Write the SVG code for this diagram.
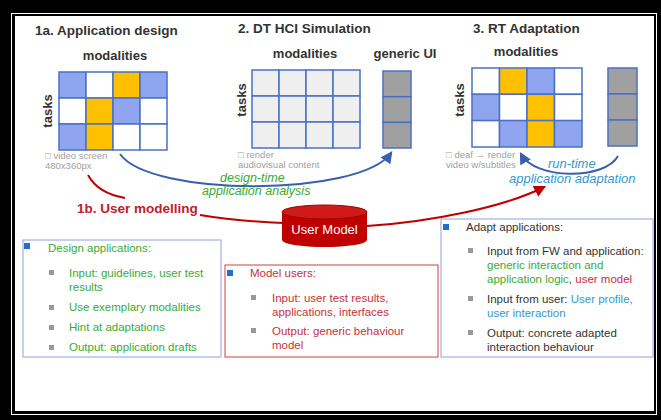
<svg xmlns="http://www.w3.org/2000/svg" width="661" height="420" viewBox="0 0 661 420">
<defs>
<style>
.t{font-family:"Liberation Sans",Arial,sans-serif;}
.h{font-weight:bold;fill:#333;}
.sm{font-size:9.5px;fill:#a0a0a0;}
.it{font-style:italic;}
.cell{stroke:#4a70c8;stroke-width:1.5;}
.b{fill:#8fa5ef;}
.o{fill:#ffc000;}
.w{fill:#ffffff;}
.g{fill:#efefef;}
.d{fill:#a0a0a0;}
.li{font-size:11.5px;}
.sq{fill:#999;}
.bsq{fill:#1f6fd0;}
.grn{fill:#3aaa35;}
.red{fill:#c8303a;}
.dk{fill:#333;}
.lb{fill:#3399cc;}
</style>
<marker id="ab" viewBox="0 0 10 10" refX="8" refY="5" markerWidth="6" markerHeight="6" orient="auto"><path d="M0,0 L10,5 L0,10 z" fill="#3a5fb0"/></marker>
<marker id="ar" viewBox="0 0 10 10" refX="8" refY="5" markerWidth="6" markerHeight="6" orient="auto"><path d="M0,0 L10,5 L0,10 z" fill="#c00000"/></marker>
</defs>
<rect x="0" y="0" width="661" height="420" fill="#000"/>
<rect x="11.5" y="13.5" width="645" height="401" fill="none" stroke="#fff" stroke-width="1"/>
<rect x="15" y="16" width="639" height="395" fill="#fff"/>

<g id="stage1">
<text class="t h" x="35" y="35" font-size="13.5">1a. Application design</text>
<text class="t h" x="115" y="60" font-size="13" text-anchor="middle">modalities</text>
<text class="t h" font-size="13" transform="translate(52,111) rotate(-90)" text-anchor="middle">tasks</text>
<g class="cell">
<rect class="b" x="59" y="72" width="27" height="26"/><rect class="w" x="86" y="72" width="27" height="26"/><rect class="o" x="113" y="72" width="27" height="26"/><rect class="b" x="140" y="72" width="27" height="26"/>
<rect class="w" x="59" y="98" width="27" height="26"/><rect class="o" x="86" y="98" width="27" height="26"/><rect class="b" x="113" y="98" width="27" height="26"/><rect class="w" x="140" y="98" width="27" height="26"/>
<rect class="b" x="59" y="124" width="27" height="26"/><rect class="o" x="86" y="124" width="27" height="26"/><rect class="w" x="113" y="124" width="27" height="26"/><rect class="w" x="140" y="124" width="27" height="26"/>
</g>
<text class="t sm" x="45" y="159">□ video screen</text>
<text class="t sm" x="45" y="169">480x360px</text>
</g>

<g id="stage2">
<text class="t h" x="238" y="33" font-size="13.5">2. DT HCI Simulation</text>
<text class="t h" x="305" y="58" font-size="13" text-anchor="middle">modalities</text>
<text class="t h" x="405" y="58" font-size="13" text-anchor="middle">generic UI</text>
<text class="t h" font-size="13" transform="translate(246,100) rotate(-90)" text-anchor="middle">tasks</text>
<g class="cell">
<rect class="g" x="252" y="70" width="27" height="26"/><rect class="g" x="279" y="70" width="27" height="26"/><rect class="g" x="306" y="70" width="27" height="26"/><rect class="g" x="333" y="70" width="27" height="26"/>
<rect class="g" x="252" y="96" width="27" height="26"/><rect class="g" x="279" y="96" width="27" height="26"/><rect class="g" x="306" y="96" width="27" height="26"/><rect class="g" x="333" y="96" width="27" height="26"/>
<rect class="g" x="252" y="122" width="27" height="26"/><rect class="g" x="279" y="122" width="27" height="26"/><rect class="g" x="306" y="122" width="27" height="26"/><rect class="g" x="333" y="122" width="27" height="26"/>
<rect class="d" x="383" y="71" width="28" height="25.7"/><rect class="d" x="383" y="96.7" width="28" height="25.7"/><rect class="d" x="383" y="122.4" width="28" height="25.6"/>
</g>
<text class="t sm" x="238" y="158">□ render</text>
<text class="t sm" x="238" y="168">audiovisual content</text>
</g>

<g id="stage3">
<text class="t h" x="473" y="33" font-size="13.5">3. RT Adaptation</text>
<text class="t h" x="526" y="56" font-size="13" text-anchor="middle">modalities</text>
<text class="t h" font-size="13" transform="translate(464,100) rotate(-90)" text-anchor="middle">tasks</text>
<g class="cell">
<rect class="w" x="472" y="68" width="27.5" height="26.3"/><rect class="o" x="499.5" y="68" width="27.5" height="26.3"/><rect class="b" x="527" y="68" width="27.5" height="26.3"/><rect class="w" x="554.5" y="68" width="27.5" height="26.3"/>
<rect class="b" x="472" y="94.3" width="27.5" height="26.3"/><rect class="w" x="499.5" y="94.3" width="27.5" height="26.3"/><rect class="o" x="527" y="94.3" width="27.5" height="26.3"/><rect class="w" x="554.5" y="94.3" width="27.5" height="26.3"/>
<rect class="w" x="472" y="120.6" width="27.5" height="26.4"/><rect class="b" x="499.5" y="120.6" width="27.5" height="26.4"/><rect class="o" x="527" y="120.6" width="27.5" height="26.4"/><rect class="b" x="554.5" y="120.6" width="27.5" height="26.4"/>
<rect class="d" x="608" y="68" width="29" height="26"/><rect class="d" x="608" y="94" width="29" height="26"/><rect class="d" x="608" y="120" width="29" height="26"/>
</g>
<text class="t sm" x="446" y="158">□ deaf → render</text>
<text class="t sm" x="446" y="168">video w/subtitles</text>
</g>

<g id="connectors" fill="none">
<path d="M120,154 C150,197 360,197 391,153" stroke="#3a5fb0" stroke-width="2" marker-end="url(#ab)"/>
<path d="M618,156 C605,180 535,180 521,154" stroke="#3a5fb0" stroke-width="2" marker-end="url(#ab)"/>
<path d="M88,175 C95,188 108,195 125,198" stroke="#c00000" stroke-width="2"/>
<path d="M200,215 C230,220 260,222 283,223" stroke="#c00000" stroke-width="2"/>
<path d="M367,226 C430,222 505,207 544,187" stroke="#c00000" stroke-width="2" marker-end="url(#ar)"/>
</g>

<g id="labels">
<text class="t it grn" x="220" y="182" font-size="12.5">design-time</text>
<text class="t it grn" x="202" y="195" font-size="12.5">application analysis</text>
<text class="t it lb" x="548" y="168" font-size="13">run-time</text>
<text class="t it lb" x="509" y="183" font-size="13">application adaptation</text>
<text class="t" x="77" y="213" font-size="13.5" font-weight="bold" fill="#c0202a">1b. User modelling</text>
</g>

<g id="usermodel">
<path d="M282,212 L282,240 A42.5,7 0 0 0 367,240 L367,212 Z" fill="#c00000"/>
<ellipse cx="324.5" cy="212" rx="42.5" ry="7" fill="#d01a1a" stroke="#a00000" stroke-width="1"/>
<text class="t" x="324.5" y="234" font-size="13" fill="#fff" text-anchor="middle">User Model</text>
</g>

<g id="box1">
<rect x="23" y="240" width="198" height="117" fill="#fff" stroke="#8fa0e0" stroke-width="1"/>
<rect class="bsq" x="24" y="243" width="6" height="6"/>
<text class="t li grn" x="48" y="252">Design applications:</text>
<rect class="sq" x="49" y="270" width="5" height="5"/>
<text class="t li grn" x="69" y="277">Input: guidelines, user test</text>
<text class="t li grn" x="69" y="291">results</text>
<rect class="sq" x="49" y="305" width="5" height="5"/>
<text class="t li grn" x="69" y="311">Use exemplary modalities</text>
<rect class="sq" x="49" y="325" width="5" height="5"/>
<text class="t li grn" x="69" y="331">Hint at adaptations</text>
<rect class="sq" x="49" y="345" width="5" height="5"/>
<text class="t li grn" x="69" y="351">Output: application drafts</text>
</g>

<g id="box2">
<rect x="225" y="265" width="213" height="92" fill="#fff" stroke="#d04040" stroke-width="1"/>
<rect class="bsq" x="227" y="270" width="6" height="6"/>
<text class="t li red" x="250" y="277">Model users:</text>
<rect class="sq" x="251" y="295" width="5" height="5"/>
<text class="t li red" x="272" y="302">Input: user test results,</text>
<text class="t li red" x="272" y="316">applications, interfaces</text>
<rect class="sq" x="251" y="328" width="5" height="5"/>
<text class="t li red" x="272" y="335">Output: generic behaviour</text>
<text class="t li red" x="272" y="349">model</text>
</g>

<g id="box3">
<rect x="441" y="219" width="212" height="138" fill="#fff" stroke="#8fa0e0" stroke-width="1"/>
<rect class="bsq" x="443" y="224" width="6" height="6"/>
<text class="t li dk" x="466" y="231">Adapt applications:</text>
<rect class="sq" x="468" y="248" width="5" height="5"/>
<text class="t li dk" x="487" y="255">Input from FW and application:</text>
<text class="t li grn" x="487" y="269">generic interaction and</text>
<text class="t li" x="487" y="283"><tspan class="grn">application logic</tspan><tspan class="dk">, </tspan><tspan class="red">user model</tspan></text>
<rect class="sq" x="468" y="296" width="5" height="5"/>
<text class="t li" x="487" y="303"><tspan class="dk">Input from user: </tspan><tspan class="lb">User profile,</tspan></text>
<text class="t li lb" x="487" y="317">user interaction</text>
<rect class="sq" x="468" y="330" width="5" height="5"/>
<text class="t li dk" x="487" y="337">Output: concrete adapted</text>
<text class="t li dk" x="487" y="351">interaction behaviour</text>
</g>
</svg>
